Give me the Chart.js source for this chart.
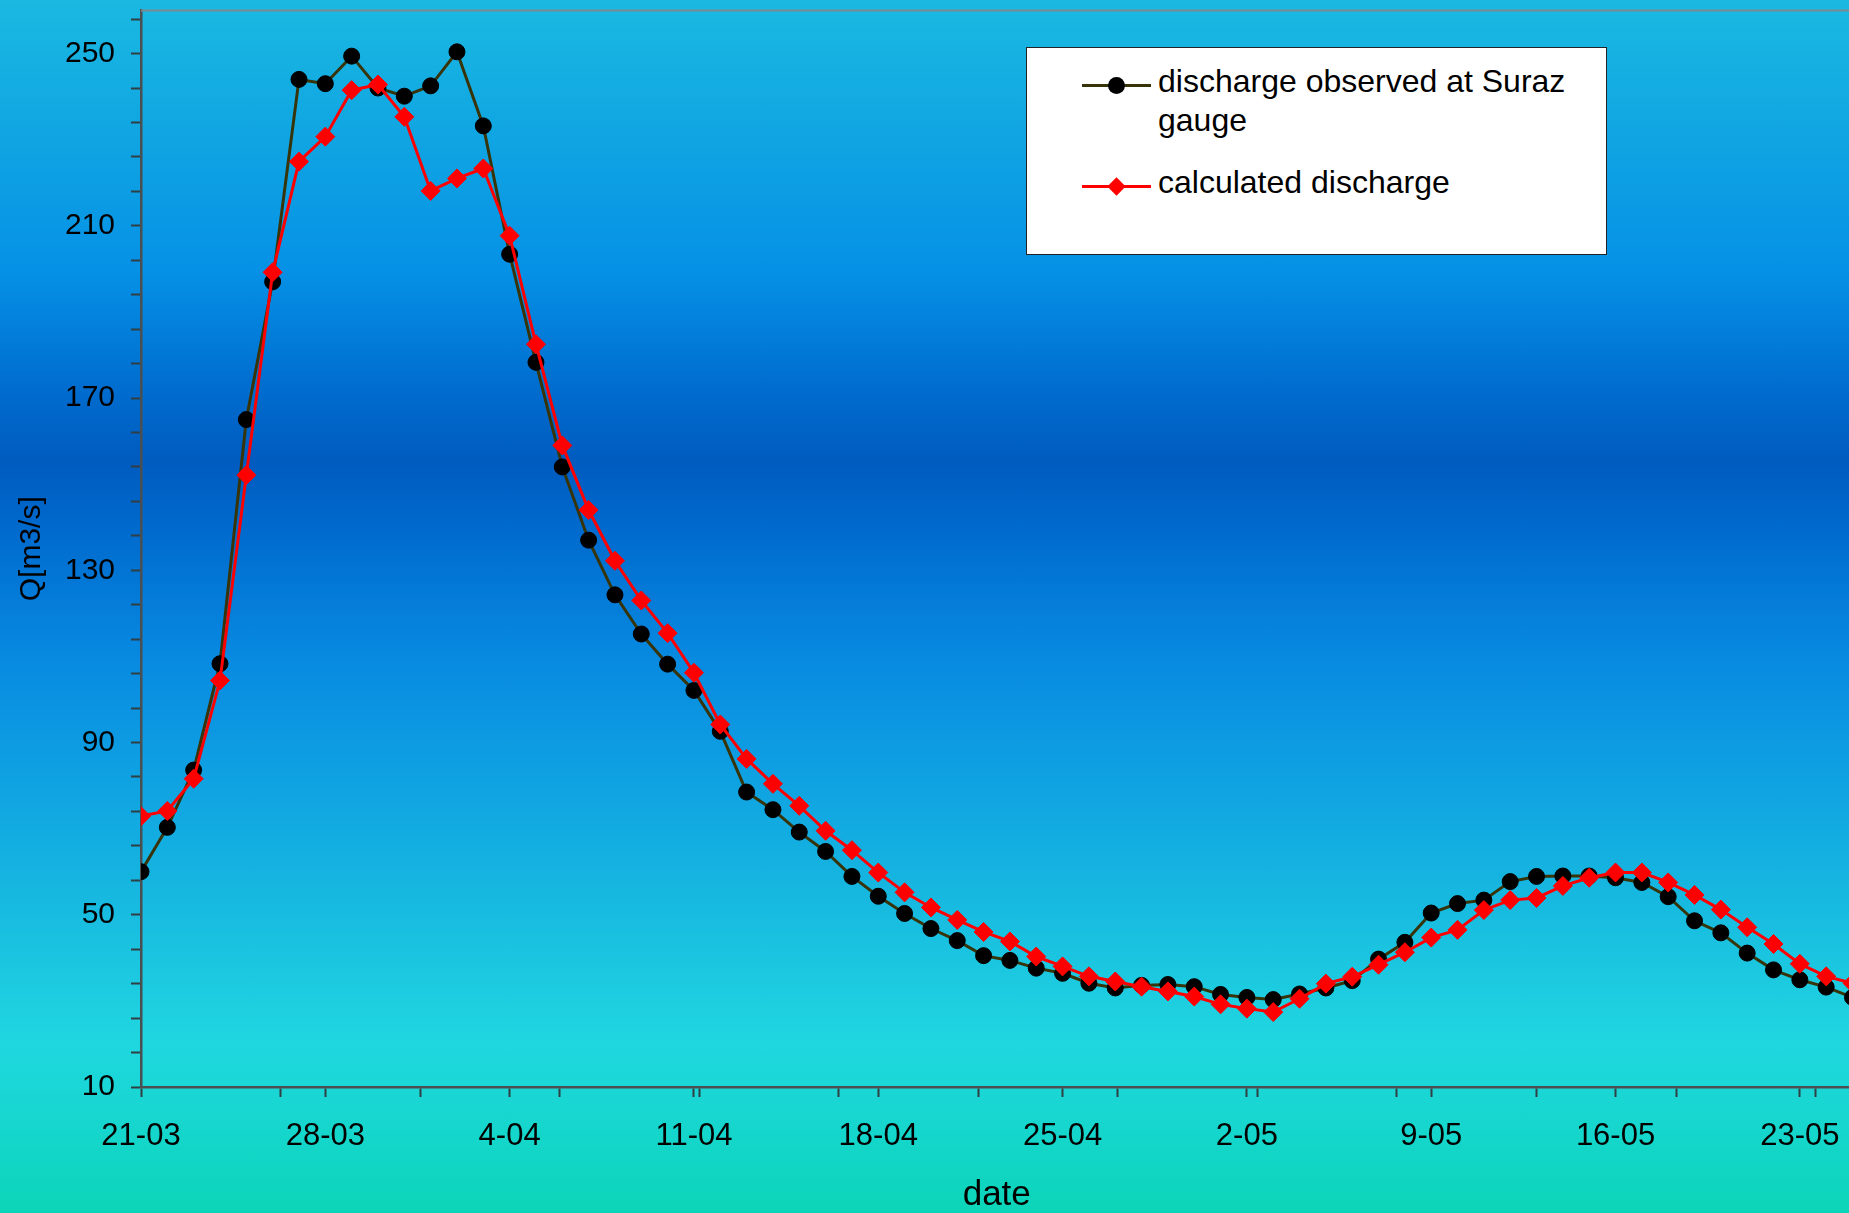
<!DOCTYPE html>
<html>
<head>
<meta charset="utf-8">
<title>Discharge at Suraz gauge</title>
<script src="https://cdn.jsdelivr.net/npm/chart.js@4.4.1/dist/chart.umd.min.js"></script>
<style>
  html, body {
    margin: 0;
    padding: 0;
    width: 1849px;
    height: 1213px;
    overflow: hidden;
  }
  body {
    position: relative;
    font-family: 'Liberation Sans', Arial, sans-serif;
    background: linear-gradient(to bottom,
      #1ab9e1 0%, #0d9fe3 14.6%, #0591e6 22.3%, #006dcf 32%, #005bbf 38%,
      #006bce 44%, #0788e0 53.5%, #0e9fe2 63%, #16b6e0 73%, #1ecfe0 83%,
      #1fd7df 86%, #17d6d0 92%, #0bd5b8 100%);
  }
  #chart {
    position: absolute;
    left: 0;
    top: 0;
  }
  #legend {
    position: absolute;
    left: 1026px;
    top: 47px;
    width: 579px;
    height: 206px;
    background: #fff;
    border: 1.5px solid #222;
    font-size: 32px;
    line-height: 39px;
    color: #000;
  }
  .entry {
    position: absolute;
    left: 55px;
  }
  .sample {
    position: absolute;
    left: 0;
    width: 69px;
    height: 3px;
  }
  .dot {
    position: absolute;
    left: 26px;
    top: -7px;
    width: 17px;
    height: 17px;
    border-radius: 50%;
  }
  .diamond {
    position: absolute;
    left: 28px;
    top: -5px;
    width: 13px;
    height: 13px;
    transform: rotate(45deg);
  }
  .text {
    position: absolute;
    left: 76px;
    width: 440px;
  }
</style>
</head>
<body>
<canvas id="chart" width="1863" height="1213"></canvas>
<div id="legend"></div>
<script>
// daily discharge, one value per day starting 21-03
const observed = [
  60, 70.3, 83.6, 108.3, 165, 197, 244, 243, 249.4, 242,
  240.1, 242.5, 250.4, 233.2, 203.4, 178.3, 154, 137, 124.3, 115.2,
  108.2, 102.1, 92.6, 78.5, 74.4, 69.2, 64.7, 58.9, 54.3, 50.3,
  46.8, 44, 40.5, 39.4, 37.6, 36.4, 34.1, 33, 33.6, 33.8,
  33.3, 31.5, 30.8, 30.3, 31.6, 33, 34.7, 39.7, 43.6, 50.4,
  52.6, 53.4, 57.7, 58.9, 59, 59, 58.6, 57.5, 54.2, 48.6,
  45.8, 41.1, 37.2, 34.9, 33.2, 30.8
];
const calculated = [
  72.9, 74.1, 81.6, 104.4, 152.1, 199.2, 224.9, 230.7, 241.5, 242.8,
  235.3, 218.1, 221, 223.3, 207.7, 182.5, 159, 144, 132.2, 123,
  115.4, 106.2, 94.2, 86.2, 80.4, 75.3, 69.5, 65, 59.8, 55.2,
  51.7, 48.8, 46, 43.8, 40.3, 38, 35.7, 34.5, 33.3, 32.2,
  31, 29.2, 28.2, 27.4, 30.5, 34, 35.6, 38.4, 41.3, 44.7,
  46.5, 51.1, 53.4, 53.9, 56.7, 58.6, 59.8, 59.8, 57.5, 54.6,
  51.2, 47.1, 43.2, 38.6, 35.7, 34.1
];

// weekly date labels on the x axis (day 0, 7, 14, ...)
const xTickLabels = ['21-03', '28-03', '4-04', '11-04', '18-04', '25-04', '2-05', '9-05', '16-05', '23-05'];
const xMajorStep = 7;
const xMinorStep = 5.3;
const xMax = 65;

// y axis
const yTickLabels = [10, 50, 90, 130, 170, 210, 250];
const yMin = 10;
const yMax = 260;
const yMinorStep = 8;

const seriesNames = ['discharge observed at Suraz gauge', 'calculated discharge'];
const seriesColors = { line: ['#38340a', '#ff0000'], point: ['#000000', '#ff0000'] };

const toPoints = arr => arr.map((v, i) => ({ x: i, y: v }));

Chart.defaults.font.family = "'Liberation Sans', Arial, sans-serif";
Chart.defaults.color = '#000';

// grey frame line along the top of the plot area
const topBorder = {
  id: 'topBorder',
  beforeDatasetsDraw(chart) {
    const { ctx, chartArea } = chart;
    ctx.save();
    ctx.strokeStyle = '#7d8a90';
    ctx.lineWidth = 2;
    ctx.beginPath();
    ctx.moveTo(chartArea.left, chartArea.top);
    ctx.lineTo(chartArea.right, chartArea.top);
    ctx.stroke();
    ctx.restore();
  }
};

const ctx = document.getElementById('chart').getContext('2d');
const chart = new Chart(ctx, {
  type: 'line',
  data: {
    datasets: [
      {
        label: seriesNames[0],
        data: toPoints(observed),
        borderColor: seriesColors.line[0],
        borderWidth: 3,
        pointStyle: 'circle',
        pointRadius: 8,
        pointBorderWidth: 1,
        pointBackgroundColor: seriesColors.point[0],
        pointBorderColor: seriesColors.point[0],
        tension: 0,
        order: 1
      },
      {
        label: seriesNames[1],
        data: toPoints(calculated),
        borderColor: seriesColors.line[1],
        borderWidth: 3,
        pointStyle: 'rectRot',
        pointRadius: 9.5,
        pointBorderWidth: 1,
        pointBackgroundColor: seriesColors.point[1],
        pointBorderColor: seriesColors.point[1],
        tension: 0,
        order: 0
      }
    ]
  },
  options: {
    responsive: false,
    animation: false,
    devicePixelRatio: 1,
    layout: { padding: 0 },
    plugins: {
      legend: { display: false },
      tooltip: { enabled: false }
    },
    scales: {
      x: {
        type: 'linear',
        min: 0,
        max: xMax,
        afterBuildTicks: scale => {
          const ticks = xTickLabels.map((_, i) => ({ value: i * xMajorStep }));
          for (let v = xMinorStep; v < xMax; v += xMinorStep) ticks.push({ value: v });
          ticks.sort((a, b) => a.value - b.value);
          scale.ticks = ticks;
        },
        afterFit: scale => {
          scale.height = 126;
          // the plot runs right up to the canvas edge
          scale.paddingLeft = 0;
          scale.paddingRight = 0;
        },
        ticks: {
          autoSkip: false,
          maxRotation: 0,
          padding: 21,
          font: { size: 31 },
          callback: value => {
            const k = value / xMajorStep;
            return Number.isInteger(k) && xTickLabels[k] ? xTickLabels[k] : '';
          }
        },
        grid: {
          drawOnChartArea: false,
          drawTicks: true,
          tickLength: 10,
          tickColor: '#2f3f44',
          tickWidth: 2
        },
        border: { display: true, color: '#4a4f52', width: 2.5 },
        title: {
          display: true,
          text: 'date',
          font: { size: 35, lineHeight: 1 },
          padding: { top: 0, bottom: 0 }
        }
      },
      y: {
        type: 'linear',
        min: yMin,
        max: yMax,
        afterBuildTicks: scale => {
          const ticks = [];
          for (let v = yMin; v < yMax; v += yMinorStep) ticks.push({ value: v });
          scale.ticks = ticks;
        },
        afterFit: scale => {
          scale.width = 141;
          // keep the plot area running up to the top frame line
          scale.paddingTop = 8;
          scale.paddingBottom = 0;
        },
        ticks: {
          autoSkip: false,
          padding: 16,
          font: { size: 30 },
          callback: value => (yTickLabels.includes(value) ? String(value) : '')
        },
        grid: {
          drawOnChartArea: false,
          drawTicks: true,
          tickLength: 10,
          tickColor: '#2f3f44',
          tickWidth: 2
        },
        border: { display: true, color: '#4a4f52', width: 2.5 },
        title: {
          display: true,
          text: 'Q[m3/s]',
          font: { size: 30 },
          padding: { top: 14, bottom: 0 }
        }
      }
    }
  },
  plugins: [topBorder]
});

// legend box, built from the chart's datasets
const legend = document.getElementById('legend');
const rows = [36, 137];
chart.data.datasets.forEach((ds, i) => {
  const entry = document.createElement('div');
  entry.className = 'entry';
  entry.style.top = rows[i] + 'px';
  const marker = ds.pointStyle === 'rectRot' ? 'diamond' : 'dot';
  entry.innerHTML = `
    <div class="sample" style="background:${ds.borderColor}">
      <div class="${marker}" style="background:${ds.pointBackgroundColor}"></div>
    </div>
    <div class="text" style="top:-22px">${ds.label}</div>
  `;
  legend.appendChild(entry);
});
</script>
</body>
</html>
